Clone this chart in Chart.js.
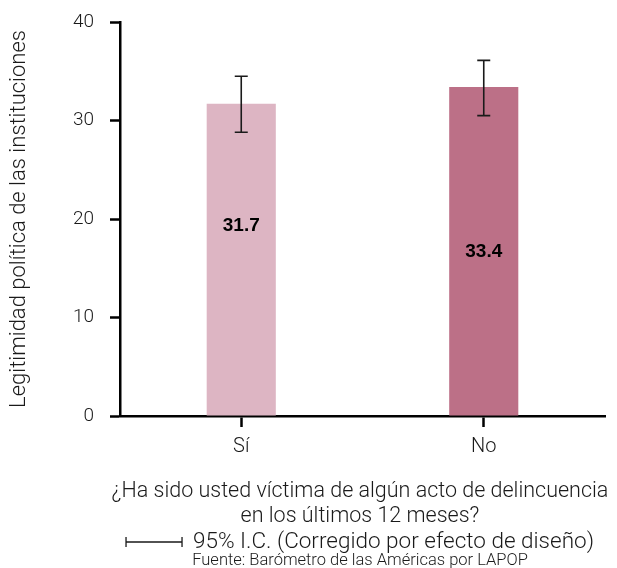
<!DOCTYPE html>
<html><head><meta charset="utf-8">
<script src="https://cdn.jsdelivr.net/npm/chart.js@4"></script>
<style>html,body{margin:0;padding:0;background:#fff}#wrap{width:617px;height:568px;position:relative}</style>
</head><body><div id="wrap"><canvas id="c"></canvas></div>
<script>
const categories = ['Sí', 'No'];
const values = [31.7, 33.4];
const ciLow = [28.8, 30.5];
const ciHigh = [34.5, 36.1];
const yTicks = [0, 10, 20, 30, 40];
const barColors = ['#DDB5C3', '#BC7087'];
const yTitle = 'Legitimidad política de las instituciones';
const xTitle = ['¿Ha sido usted víctima de algún acto de delincuencia', 'en los últimos 12 meses?'];
const ciLegend = '95% I.C. (Corregido por efecto de diseño)';
const source = 'Fuente: Barómetro de las Américas por LAPOP';

const FAM = 'Roboto, "Liberation Sans", Arial, sans-serif';
const TXT = '#1a1a1a';

const errorBars = {
  id: 'errorBars',
  afterDatasetsDraw(chart) {
    const ctx = chart.ctx, ys = chart.scales.y;
    const meta = chart.getDatasetMeta(0);
    ctx.save();
    ctx.strokeStyle = '#1a1a1a';
    ctx.lineWidth = 1.6;
    meta.data.forEach((bar, i) => {
      const x = bar.x, y1 = ys.getPixelForValue(ciLow[i]), y2 = ys.getPixelForValue(ciHigh[i]);
      const cap = 6.5;
      ctx.beginPath();
      ctx.moveTo(x, y1); ctx.lineTo(x, y2);
      ctx.moveTo(x - cap, y1); ctx.lineTo(x + cap, y1);
      ctx.moveTo(x - cap, y2); ctx.lineTo(x + cap, y2);
      ctx.stroke();
    });
    ctx.restore();
  }
};

const valueLabels = {
  id: 'valueLabels',
  afterDatasetsDraw(chart, args, opts) {
    const ctx = chart.ctx, ys = chart.scales.y;
    const meta = chart.getDatasetMeta(0);
    ctx.save();
    ctx.font = 'bold 19px "Liberation Sans Narrow", "Liberation Sans", Arial, sans-serif';
    ctx.fillStyle = '#000';
    ctx.textAlign = 'center';
    ctx.textBaseline = 'middle';
    meta.data.forEach((bar, i) => {
      const y = ys.getPixelForValue(values[i] * opts.frac[i]);
      ctx.fillText(values[i].toFixed(1), bar.x, y);
    });
    ctx.restore();
  }
};

const bottomText = {
  id: 'bottomText',
  afterDraw(chart) {
    const ctx = chart.ctx;
    const cx = 360;
    ctx.save();
    ctx.fillStyle = TXT;
    ctx.textBaseline = 'middle';
    ctx.textAlign = 'center';
    ctx.font = '300 21.5px ' + FAM;
    xTitle.forEach((line, i) => ctx.fillText(line, cx, 492 + i * 24.5));
    ctx.font = '300 22.5px ' + FAM;
    const tw = ctx.measureText(ciLegend).width;
    const iconW = 56, gap = 11;
    const x0 = cx - (iconW + gap + tw) / 2;
    const y = 542;
    ctx.strokeStyle = '#1a1a1a';
    ctx.lineWidth = 1.3;
    ctx.beginPath();
    ctx.moveTo(x0, y); ctx.lineTo(x0 + iconW, y);
    ctx.moveTo(x0, y - 5); ctx.lineTo(x0, y + 5);
    ctx.moveTo(x0 + iconW, y - 5); ctx.lineTo(x0 + iconW, y + 5);
    ctx.stroke();
    ctx.textAlign = 'left';
    ctx.fillText(ciLegend, x0 + iconW + gap, y);
    ctx.font = '300 16.5px ' + FAM;
    ctx.textAlign = 'center';
    ctx.fillText(source, cx, 561);
    ctx.restore();
  }
};

new Chart(document.getElementById('c'), {
  type: 'bar',
  data: {
    labels: categories,
    datasets: [{
      data: values,
      backgroundColor: barColors,
      borderWidth: 0,
      categoryPercentage: 1,
      barPercentage: 0.285
    }]
  },
  options: {
    responsive: true,
    maintainAspectRatio: false,
    animation: false,
    layout: { padding: { left: 0, right: 12, top: 22, bottom: 38 } },
    plugins: {
      legend: { display: false },
      tooltip: { enabled: false },
      valueLabels: { frac: [0.61, 0.50] }
    },
    scales: {
      x: {
        grid: { display: true, offset: false, drawOnChartArea: false, drawTicks: true, tickLength: 11, tickWidth: 2.5, tickColor: '#000' },
        border: { display: true, color: '#000', width: 2.5 },
        ticks: { font: { family: FAM, size: 20, weight: 300 }, color: TXT, padding: 8 },
        title: { display: false },
        afterFit: s => { s.height = 114; }
      },
      y: {
        min: 0, max: 40,
        afterBuildTicks: s => { s.ticks = yTicks.map(v => ({ value: v })); },
        grid: { display: true, drawOnChartArea: false, drawTicks: true, tickLength: 10, tickWidth: 2.5, tickColor: '#000' },
        border: { display: true, color: '#000', width: 2.5 },
        ticks: { font: { family: FAM, size: 19, weight: 300 }, color: TXT, padding: 16 },
        title: { display: true, text: yTitle, color: TXT, font: { family: FAM, size: 22, weight: 300 }, padding: { top: 6, bottom: 0 } },
        afterFit: s => { s.width = 120; s.paddingTop = 0; s.paddingBottom = 0; }
      }
    }
  },
  plugins: [errorBars, valueLabels, bottomText]
});
</script>
</body></html>
